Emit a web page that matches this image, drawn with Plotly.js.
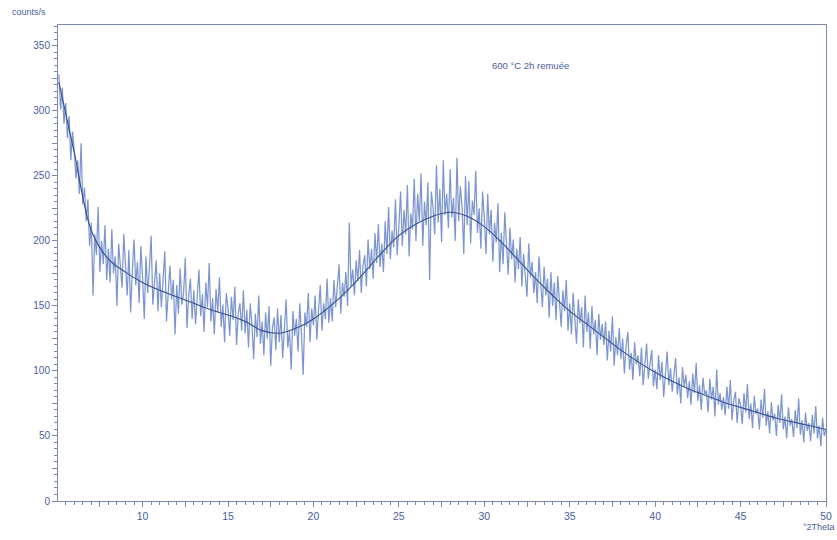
<!DOCTYPE html>
<html>
<head>
<meta charset="utf-8">
<script src="https://cdn.plot.ly/plotly-3.0.1.min.js"></script>
<style>html,body{margin:0;padding:0;background:#fff;}#chart{width:837px;height:540px;}</style>
</head>
<body>
<div id="chart"></div>
<script>
// scan settings (°2Theta)
const scanStart = 5.1;
const scanStep = 0.1;

// measured counts/s, one value per 0.1 °2Theta from 5.1 to 50.0
const counts = [
  328, 301, 318, 290, 306, 279, 296, 262, 284,
  270, 248, 262, 236, 275, 228, 241, 215, 232, 196,
  214, 158, 205, 189, 226, 176, 200, 182, 212, 170,
  194, 168, 209, 175, 188, 150, 198, 181, 164, 205,
  182, 158, 193, 145, 177, 201, 166, 184, 152, 196,
  172, 140, 188, 160, 179, 204, 151, 170, 185, 146,
  175, 149, 167, 192, 138, 163, 181, 155, 170, 128,
  166, 144, 179, 151, 160, 187, 133, 158, 171, 140,
  162, 136, 155, 178, 142, 159, 130, 168, 149, 183,
  138, 156, 128, 163, 145, 172, 134, 151, 122, 160,
  148, 127, 157, 139, 165, 120, 144, 152, 131, 162,
  129, 147, 118, 152, 136, 109, 144, 126, 158, 121,
  138, 112, 145, 125, 150, 104, 133, 141, 116, 148,
  122, 143, 110, 136, 155, 118, 131, 101, 146, 127,
  140, 115, 152, 128, 97, 145, 134, 160, 122, 148,
  135, 158, 124, 147, 166, 131, 152, 140, 171, 137,
  156, 138, 170, 149, 163, 182, 144, 168, 157, 176,
  150, 214, 165, 178, 158, 185, 169, 193, 160, 181,
  189, 165, 201, 178, 194, 171, 206, 183, 213, 180,
  198, 176, 215, 190, 226, 186, 208, 195, 232, 189,
  211, 238, 196, 224, 205, 243, 188, 221, 209, 248,
  200, 236, 215, 252, 196, 230, 212, 245, 170, 238,
  226, 205, 258, 214, 240, 199, 262, 220, 236, 210,
  255, 218, 233, 200, 264, 215, 242, 226, 190, 250,
  212, 246, 198, 231, 220, 254, 206, 225, 194, 238,
  218, 190, 236, 205, 224, 184, 214, 199, 229, 176,
  206, 182, 222, 193, 174, 210, 186, 201, 168, 194,
  178, 203, 165, 190, 175, 157, 198, 172, 184, 160,
  176, 152, 188, 165, 149, 180, 158, 171, 141, 176,
  150, 168, 139, 173, 155, 134, 162, 146, 170, 131,
  152, 128, 160, 142, 121, 155, 137, 149, 118, 158,
  130, 145, 117, 150, 128, 139, 112, 144, 124, 136,
  120, 138, 108, 131, 115, 142, 104, 126, 112, 133,
  109, 125, 98, 119, 130, 101, 114, 93, 122, 105,
  112, 96, 118, 89, 108, 121, 94, 103, 116, 88,
  101, 86, 112, 93, 107, 80, 98, 115, 89, 102,
  84, 99, 110, 82, 95, 75, 103, 88, 97, 79,
  92, 74, 98, 83, 106, 77, 89, 70, 95, 82,
  85, 68, 94, 78, 88, 65, 101, 74, 83, 70,
  80, 66, 88, 71, 93, 62, 77, 84, 60, 79,
  74, 59, 83, 68, 90, 63, 75, 56, 81, 67,
  71, 55, 78, 64, 86, 58, 69, 52, 76, 62,
  67, 50, 74, 60, 82, 55, 65, 48, 72, 58,
  63, 49, 70, 56, 79, 51, 62, 45, 68, 54,
  60, 46, 66, 52, 73, 48, 58, 42, 64, 50,
  55
];

// smoothed background / fit curve
const fitTheta = [5.1, 6, 7, 8, 9, 10, 11, 12, 13, 14, 15, 16, 17, 18, 19, 20, 21, 22, 23, 24, 25, 26, 27, 28, 29, 30,
  31, 32, 33, 34, 35, 36, 37, 38, 39, 40, 41, 42, 43, 44, 45, 46, 47, 48, 49, 50];
const fitCounts = [322, 268, 208, 186, 176, 168, 162, 157, 152, 147, 143, 138, 131, 129, 133, 140, 150, 162, 176, 191, 204, 213, 219, 222, 219, 211,
  199, 185, 171, 158, 146, 136, 126, 116, 107, 99, 92, 86, 81, 76, 72, 68, 64, 61, 58, 55];

// axis ticks
const xTickVals = [7.5, 10, 12.5, 15, 17.5, 20, 22.5, 25, 27.5, 30, 32.5, 35, 37.5, 40, 42.5, 45, 47.5, 50];
const xTickText = ['', '10', '', '15', '', '20', '', '25', '', '30', '', '35', '', '40', '', '45', '', '50'];
const yTickVals = [0, 25, 50, 75, 100, 125, 150, 175, 200, 225, 250, 275, 300, 325, 350];
const yTickText = ['0', '', '50', '', '100', '', '150', '', '200', '', '250', '', '300', '', '350'];

const textColor = '#4a5d9c';
const axisColor = '#7d88ad';
const fontFam = '"Liberation Sans", Arial, sans-serif';

const traces = [
  {
    type: 'scatter', mode: 'lines',
    y: counts, x0: scanStart, dx: scanStep,
    line: {color: 'rgba(92,124,196,0.8)', width: 1.25},
    hoverinfo: 'skip', showlegend: false
  },
  {
    type: 'scatter', mode: 'lines',
    x: fitTheta, y: fitCounts,
    line: {color: '#34508f', width: 1.1, shape: 'spline'},
    hoverinfo: 'skip', showlegend: false
  }
];

const layout = {
  width: 837, height: 540,
  margin: {l: 58, r: 11, t: 25, b: 39, pad: 0},
  paper_bgcolor: '#ffffff', plot_bgcolor: '#ffffff',
  font: {family: fontFam, size: 10, color: textColor},
  showlegend: false,
  xaxis: {
    range: [5.05, 50], showgrid: false, zeroline: false,
    showline: true, linecolor: axisColor, linewidth: 1, mirror: true,
    ticks: 'outside', ticklen: 5, tickcolor: axisColor, tickwidth: 1,
    tickmode: 'array', tickvals: xTickVals, ticktext: xTickText,
    tickfont: {family: fontFam, size: 10.5, color: textColor},
    minor: {dtick: 0.5, tick0: 0, ticks: 'outside', ticklen: 3, tickcolor: axisColor, showgrid: false}
  },
  yaxis: {
    range: [0, 366], showgrid: false, zeroline: false,
    showline: true, linecolor: axisColor, linewidth: 1, mirror: true,
    ticks: 'outside', ticklen: 5, tickcolor: axisColor, tickwidth: 1,
    tickmode: 'array', tickvals: yTickVals, ticktext: yTickText,
    tickfont: {family: fontFam, size: 10, color: textColor},
    minor: {dtick: 5, tick0: 0, ticks: 'outside', ticklen: 3, tickcolor: axisColor, showgrid: false}
  },
  annotations: [
    {text: 'counts/s', xref: 'paper', yref: 'paper', x: -0.0625, y: 1.027,
     xanchor: 'left', yanchor: 'middle', showarrow: false,
     font: {family: fontFam, size: 9, color: textColor}},
    {text: '°2Theta', xref: 'paper', yref: 'paper', x: 1.0143, y: -0.0546,
     xanchor: 'right', yanchor: 'middle', showarrow: false,
     font: {family: fontFam, size: 9, color: textColor}},
    {text: '600 °C 2h remuée', xref: 'x', yref: 'y', x: 32.7, y: 335,
     xanchor: 'center', yanchor: 'middle', showarrow: false,
     font: {family: fontFam, size: 9.5, color: textColor}}
  ]
};

Plotly.newPlot('chart', traces, layout, {displayModeBar: false, staticPlot: true});
</script>
</body>
</html>
